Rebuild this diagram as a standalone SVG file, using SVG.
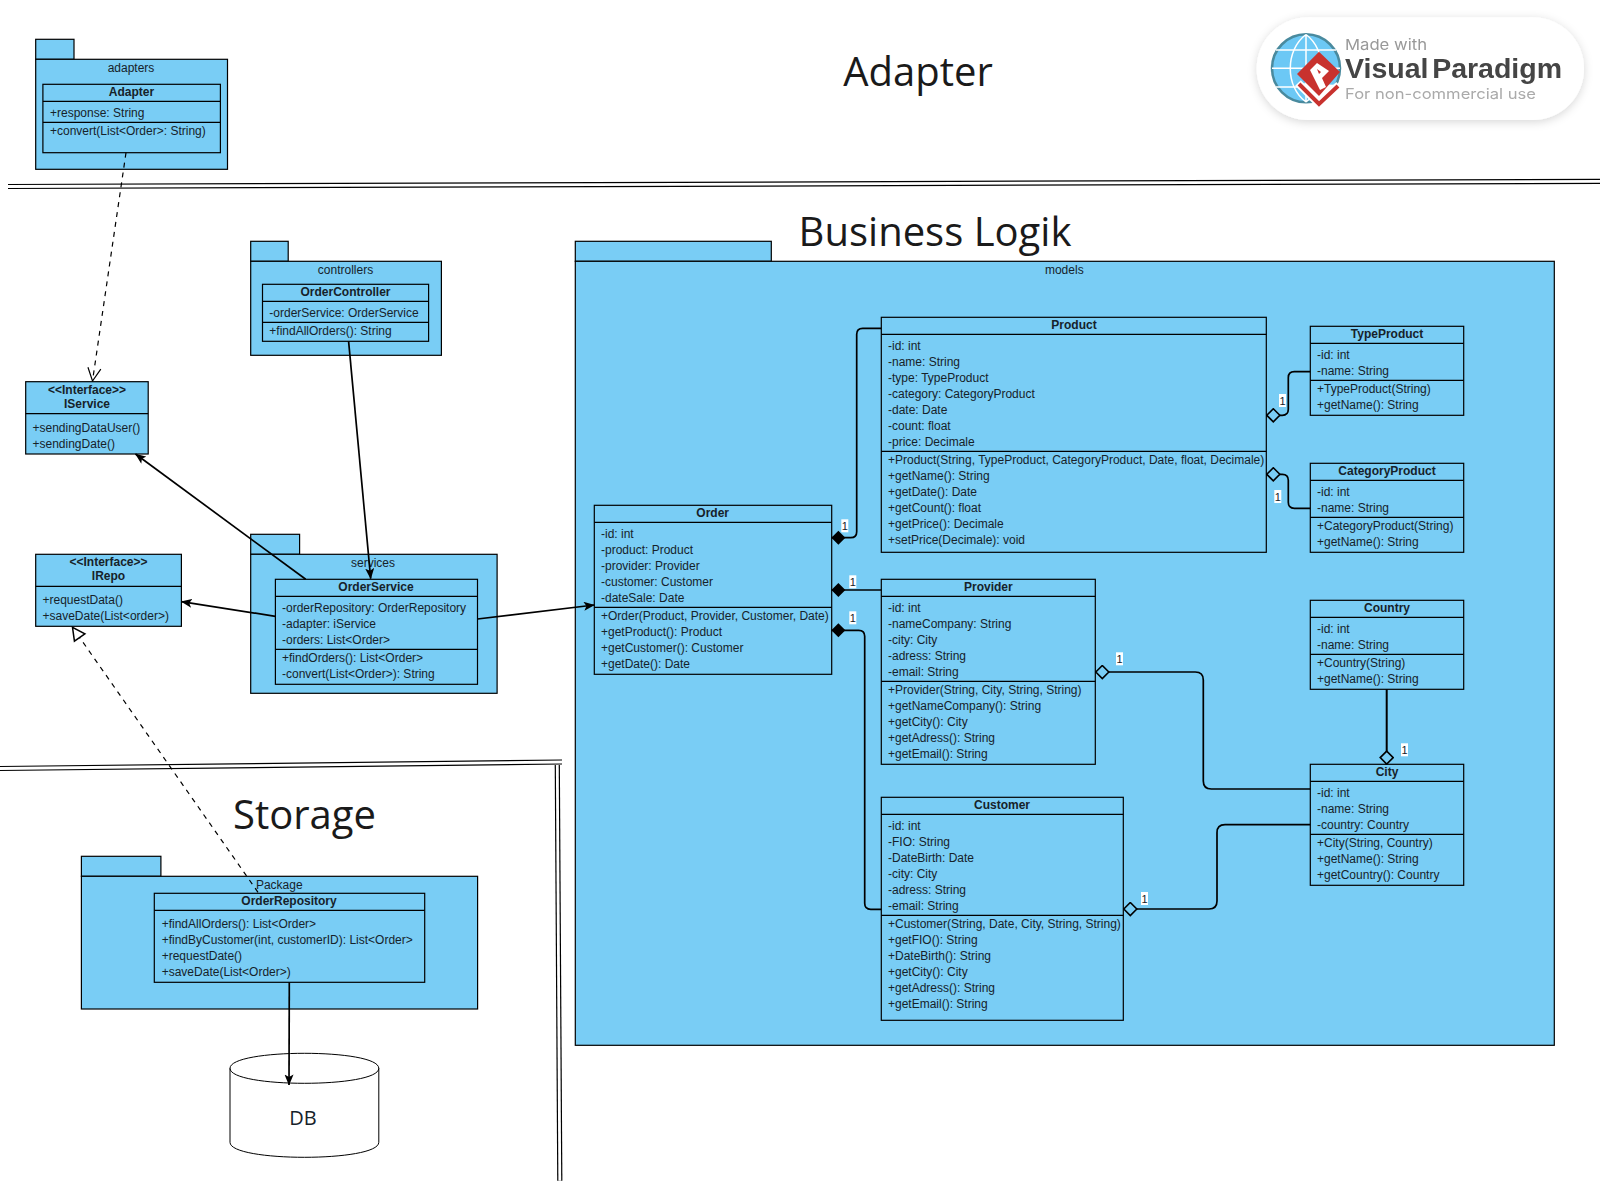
<svg xmlns="http://www.w3.org/2000/svg" width="1600" height="1200" viewBox="0 0 1600 1200">
<style>
.pk,.bx{fill:#79cdf5;stroke:#000;stroke-width:1.2}
.sp{stroke:#000;stroke-width:1.2;fill:none}
text{font-family:"Liberation Sans",Arial,sans-serif;font-size:12px;fill:#16222a}
.b{font-weight:bold;text-anchor:middle}
.c{text-anchor:middle}
.big{font-family:"Open Sans",sans-serif;font-size:40px;fill:#1a1a1a}
.cn{fill:none;stroke:#000;stroke-width:1.7}
.dash{stroke-dasharray:5 5;stroke-width:1.2}
.lb{fill:#fff}
.one{font-size:11px;text-anchor:middle}
.dk{stroke:#000;stroke-width:5.2;fill:none}
.wt{stroke:#fff;stroke-width:2.8;fill:none}
</style>
<defs>
<marker id="arr" markerUnits="userSpaceOnUse" viewBox="0 0 11 9" markerWidth="11" markerHeight="9" refX="10.5" refY="4.5" orient="auto"><path d="M0 0L11 4.5L0 9L2.6 4.5Z" fill="#000"/></marker>
<marker id="open" markerUnits="userSpaceOnUse" viewBox="0 0 15 15" markerWidth="15" markerHeight="15" refX="14" refY="7.5" orient="auto"><path d="M1 1L14 7.5L1 14" fill="none" stroke="#000" stroke-width="1.2"/></marker>
<marker id="tri" markerUnits="userSpaceOnUse" viewBox="0 0 16 16" markerWidth="16" markerHeight="16" refX="14" refY="8" orient="auto"><path d="M1.5 1.6L14 8L1.5 14.4Z" fill="#fff" stroke="#000" stroke-width="1.5"/></marker>
<marker id="fd" markerUnits="userSpaceOnUse" viewBox="0 0 15 15" markerWidth="15" markerHeight="15" refX="0.5" refY="7.5" orient="auto"><path d="M.2 7.5L7.2 .5L14.2 7.5L7.2 14.5Z" fill="#000"/></marker>
<marker id="hd" markerUnits="userSpaceOnUse" viewBox="0 0 15 15" markerWidth="15" markerHeight="15" refX="0.5" refY="7.5" orient="auto"><path d="M.7 7.5L7.2 1L13.7 7.5L7.2 14Z" fill="#79cdf5" stroke="#000" stroke-width="1.6"/></marker>
<filter id="sh" x="-10%" y="-20%" width="120%" height="140%"><feDropShadow dx="0" dy="2" stdDeviation="5" flood-color="#000" flood-opacity=".16"/></filter>
<filter id="bl" x="-5%" y="-5%" width="110%" height="110%"><feGaussianBlur stdDeviation=".5"/></filter>
</defs>

<g id="separators">
<path class="dk" d="M8 186.5L1600 181.3"/><path class="wt" d="M8 186.5L1600 181.3"/>
<path class="dk" d="M0 768.5L562 762"/><path class="wt" d="M0 768.5L562 762"/>
<path class="dk" d="M557.3 765L559.8 1180.7"/><path class="wt" d="M557.3 765L559.8 1180.7"/>
</g>

<g id="titles">
<text class="big c" x="918" y="85.5">Adapter</text>
<text class="big c" x="935" y="246">Business Logik</text>
<text class="big" x="233" y="829">Storage</text>
</g>

<g id="watermark">
<rect x="1256.7" y="17.3" width="327.3" height="102.7" rx="51" fill="#fff" filter="url(#sh)"/>
<g filter="url(#bl)">
<circle cx="1306" cy="68.3" r="34" fill="#6cc8f5" stroke="#4a8a9e" stroke-width="2.5"/>
<path d="M1272 68.3H1340M1276 50H1336M1276 87H1336M1306 34.5V102M1306 34.5C1285 50 1285 87 1306 102M1306 34.5C1327 50 1327 87 1306 102" fill="none" stroke="#fff" stroke-width="1.5"/>
<path d="M1298 83L1319 104L1339 85" fill="#fff" stroke="#fff" stroke-width="8"/>
<path d="M1299 84L1319 104L1338 86" fill="none" stroke="#c8302f" stroke-width="4"/>
<path d="M1319 51.7L1340 72L1319 96L1297 74Z" fill="#c8302f"/>
<path d="M1317 63L1329 71L1322 78L1326 87L1320 90L1310 70Z" fill="#fff"/>
<path d="M1317 69L1321 72L1319 74Z" fill="#c8302f"/>
<text x="1345" y="50" textLength="82" lengthAdjust="spacingAndGlyphs" style="font-family:Inter,sans-serif;font-size:15px;fill:#999">Made with</text>
<text x="1345" y="77.5" textLength="217" lengthAdjust="spacingAndGlyphs" style="font-family:'Liberation Sans',sans-serif;font-size:27px;font-weight:bold;word-spacing:-4px;fill:#444">Visual Paradigm</text>
<text x="1345" y="98.7" textLength="191" lengthAdjust="spacingAndGlyphs" style="font-family:Inter,sans-serif;font-size:14.5px;fill:#aaa">For non-commercial use</text>
</g>
</g>

<g id="pkg-adapters">
<rect class="pk" x="35.7" y="39.3" width="38.3" height="20"/><rect class="pk" x="35.7" y="59.3" width="191.8" height="110"/>
<text class="c" x="131" y="72">adapters</text>
</g>
<g id="class-Adapter">
<rect class="bx" x="42.9" y="84.3" width="177.5" height="68.4"/>
<path class="sp" d="M42.9 101.3H220.4M42.9 122.3H220.4"/>
<text class="b" x="131.5" y="96">Adapter</text>
<text x="50" y="117">+response: String</text>
<text x="50" y="135">+convert(List&lt;Order&gt;: String)</text>
</g>

<g id="pkg-controllers">
<rect class="pk" x="250.7" y="241.3" width="37.5" height="20"/><rect class="pk" x="250.7" y="261.3" width="190.7" height="94"/>
<text class="c" x="345.5" y="274">controllers</text>
</g>
<g id="class-OrderController">
<rect class="bx" x="262.5" y="284.3" width="166.1" height="57"/>
<path class="sp" d="M262.5 301.3H428.6M262.5 322.3H428.6"/>
<text class="b" x="345.5" y="296">OrderController</text>
<text x="269.3" y="317">-orderService: OrderService</text>
<text x="269.3" y="334.5">+findAllOrders(): String</text>
</g>

<g id="class-IService">
<rect class="bx" x="25.7" y="381.7" width="122.5" height="72.3"/>
<path class="sp" d="M25.7 413.7H148.2"/>
<text class="b" x="87" y="394">&lt;&lt;Interface&gt;&gt;</text>
<text class="b" x="87" y="408">IService</text>
<text x="32.5" y="432">+sendingDataUser()</text>
<text x="32.5" y="448">+sendingDate()</text>
</g>

<g id="class-IRepo">
<rect class="bx" x="35.7" y="554.3" width="145.7" height="72"/>
<path class="sp" d="M35.7 586.3H181.4"/>
<text class="b" x="108.5" y="566">&lt;&lt;Interface&gt;&gt;</text>
<text class="b" x="108.5" y="580">IRepo</text>
<text x="42.5" y="604">+requestData()</text>
<text x="42.5" y="620">+saveDate(List&lt;order&gt;)</text>
</g>

<g id="pkg-services">
<rect class="pk" x="250.7" y="534.3" width="48.9" height="20"/><rect class="pk" x="250.7" y="554.3" width="246.4" height="139"/>
<text class="c" x="373" y="567">services</text>
</g>
<g id="class-OrderService">
<rect class="bx" x="275.4" y="579.3" width="202.1" height="105"/>
<path class="sp" d="M275.4 596.3H477.5M275.4 649.3H477.5"/>
<text class="b" x="376" y="591">OrderService</text>
<text x="282" y="612">-orderRepository: OrderRepository</text>
<text x="282" y="628">-adapter: iService</text>
<text x="282" y="644">-orders: List&lt;Order&gt;</text>
<text x="282" y="662">+findOrders(): List&lt;Order&gt;</text>
<text x="282" y="678">-convert(List&lt;Order&gt;): String</text>
</g>

<g id="pkg-storage">
<rect class="pk" x="81.4" y="856.3" width="79.5" height="20"/><rect class="pk" x="81.4" y="876.3" width="396.2" height="132.7"/>
<text class="c" x="279.3" y="889">Package</text>
</g>
<g id="class-OrderRepository">
<rect class="bx" x="154.3" y="893.3" width="270.4" height="89"/>
<path class="sp" d="M154.3 910.3H424.7"/>
<text class="b" x="289" y="905">OrderRepository</text>
<text x="161.7" y="928">+findAllOrders(): List&lt;Order&gt;</text>
<text x="161.7" y="944">+findByCustomer(int, customerID): List&lt;Order&gt;</text>
<text x="161.7" y="960">+requestDate()</text>
<text x="161.7" y="976">+saveDate(List&lt;Order&gt;)</text>
</g>

<g id="node-DB">
<path d="M230 1068.3C230 1048.3 378.8 1048.3 378.8 1068.3V1142.3C378.8 1162.3 230 1162.3 230 1142.3ZM230 1068.3C230 1088.3 378.8 1088.3 378.8 1068.3" fill="#fff" stroke="#000" stroke-width="1"/>
<text class="c" x="303" y="1125" style="font-family:'Open Sans',sans-serif;font-size:20px">DB</text>
</g>

<g id="pkg-models">
<rect class="pk" x="575.3" y="241.3" width="196" height="20"/><rect class="pk" x="575.3" y="261.3" width="979" height="784"/>
<text class="c" x="1064.3" y="274">models</text>
</g>

<g id="class-Order">
<rect class="bx" x="594.3" y="505.3" width="237.4" height="169"/>
<path class="sp" d="M594.3 522.3H831.7M594.3 607.3H831.7"/>
<text class="b" x="712.7" y="517">Order</text>
<text x="601" y="538">-id: int</text>
<text x="601" y="554">-product: Product</text>
<text x="601" y="570">-provider: Provider</text>
<text x="601" y="586">-customer: Customer</text>
<text x="601" y="602">-dateSale: Date</text>
<text x="601" y="620">+Order(Product, Provider, Customer, Date)</text>
<text x="601" y="636">+getProduct(): Product</text>
<text x="601" y="652">+getCustomer(): Customer</text>
<text x="601" y="668">+getDate(): Date</text>
</g>

<g id="class-Product">
<rect class="bx" x="881.3" y="317.3" width="385" height="235"/>
<path class="sp" d="M881.3 334.3H1266.3M881.3 451.3H1266.3"/>
<text class="b" x="1074" y="329">Product</text>
<text x="888" y="350">-id: int</text>
<text x="888" y="366">-name: String</text>
<text x="888" y="382">-type: TypeProduct</text>
<text x="888" y="398">-category: CategoryProduct</text>
<text x="888" y="414">-date: Date</text>
<text x="888" y="430">-count: float</text>
<text x="888" y="446">-price: Decimale</text>
<text x="888" y="464">+Product(String, TypeProduct, CategoryProduct, Date, float, Decimale)</text>
<text x="888" y="480">+getName(): String</text>
<text x="888" y="496">+getDate(): Date</text>
<text x="888" y="512">+getCount(): float</text>
<text x="888" y="528">+getPrice(): Decimale</text>
<text x="888" y="544">+setPrice(Decimale): void</text>
</g>

<g id="class-Provider">
<rect class="bx" x="881.3" y="579.3" width="214" height="185"/>
<path class="sp" d="M881.3 596.3H1095.3M881.3 681.3H1095.3"/>
<text class="b" x="988.3" y="591">Provider</text>
<text x="888" y="612">-id: int</text>
<text x="888" y="628">-nameCompany: String</text>
<text x="888" y="644">-city: City</text>
<text x="888" y="660">-adress: String</text>
<text x="888" y="676">-email: String</text>
<text x="888" y="694">+Provider(String, City, String, String)</text>
<text x="888" y="710">+getNameCompany(): String</text>
<text x="888" y="726">+getCity(): City</text>
<text x="888" y="742">+getAdress(): String</text>
<text x="888" y="758">+getEmail(): String</text>
</g>

<g id="class-Customer">
<rect class="bx" x="881.3" y="797.3" width="242" height="223"/>
<path class="sp" d="M881.3 814.3H1123.3M881.3 915.3H1123.3"/>
<text class="b" x="1002" y="809">Customer</text>
<text x="888" y="830">-id: int</text>
<text x="888" y="846">-FIO: String</text>
<text x="888" y="862">-DateBirth: Date</text>
<text x="888" y="878">-city: City</text>
<text x="888" y="894">-adress: String</text>
<text x="888" y="910">-email: String</text>
<text x="888" y="928">+Customer(String, Date, City, String, String)</text>
<text x="888" y="944">+getFIO(): String</text>
<text x="888" y="960">+DateBirth(): String</text>
<text x="888" y="976">+getCity(): City</text>
<text x="888" y="992">+getAdress(): String</text>
<text x="888" y="1008">+getEmail(): String</text>
</g>

<g id="class-TypeProduct">
<rect class="bx" x="1310.3" y="326.3" width="153.4" height="89"/>
<path class="sp" d="M1310.3 343.3H1463.7M1310.3 380.3H1463.7"/>
<text class="b" x="1387" y="338">TypeProduct</text>
<text x="1317" y="359">-id: int</text>
<text x="1317" y="375">-name: String</text>
<text x="1317" y="393">+TypeProduct(String)</text>
<text x="1317" y="409">+getName(): String</text>
</g>

<g id="class-CategoryProduct">
<rect class="bx" x="1310.3" y="463.3" width="153.4" height="89"/>
<path class="sp" d="M1310.3 480.3H1463.7M1310.3 517.3H1463.7"/>
<text class="b" x="1387" y="475">CategoryProduct</text>
<text x="1317" y="496">-id: int</text>
<text x="1317" y="512">-name: String</text>
<text x="1317" y="530">+CategoryProduct(String)</text>
<text x="1317" y="546">+getName(): String</text>
</g>

<g id="class-Country">
<rect class="bx" x="1310.3" y="600.3" width="153.4" height="89"/>
<path class="sp" d="M1310.3 617.3H1463.7M1310.3 654.3H1463.7"/>
<text class="b" x="1387" y="612">Country</text>
<text x="1317" y="633">-id: int</text>
<text x="1317" y="649">-name: String</text>
<text x="1317" y="667">+Country(String)</text>
<text x="1317" y="683">+getName(): String</text>
</g>

<g id="class-City">
<rect class="bx" x="1310.3" y="764.3" width="153.4" height="121"/>
<path class="sp" d="M1310.3 781.3H1463.7M1310.3 834.3H1463.7"/>
<text class="b" x="1387" y="776">City</text>
<text x="1317" y="797">-id: int</text>
<text x="1317" y="813">-name: String</text>
<text x="1317" y="829">-country: Country</text>
<text x="1317" y="847">+City(String, Country)</text>
<text x="1317" y="863">+getName(): String</text>
<text x="1317" y="879">+getCountry(): Country</text>
</g>

<g id="connectors">
<path class="cn dash" d="M126 152.7L92.5 381" marker-end="url(#open)"/>
<path class="cn dash" d="M258 892.3L72.5 627.3" marker-end="url(#tri)"/>
<path class="cn" d="M348.6 341.3L370.7 578.7" marker-end="url(#arr)"/>
<path class="cn" d="M305.7 579.3L135.5 454" marker-end="url(#arr)"/>
<path class="cn" d="M275.4 616.3L181.4 601.7" marker-end="url(#arr)"/>
<path class="cn" d="M477.5 619L594.3 605" marker-end="url(#arr)"/>
<path class="cn" d="M289.3 982.3L289 1085" marker-end="url(#arr)"/>
<path class="cn" d="M831.7 537.7H850.7Q856.7 537.7 856.7 531.7V334.3Q856.7 328.3 862.7 328.3H881.3" marker-start="url(#fd)"/>
<path class="cn" d="M831.7 590H881.3" marker-start="url(#fd)"/>
<path class="cn" d="M831.7 630.3H858.7Q864.7 630.3 864.7 636.3V903.3Q864.7 909.3 870.7 909.3H881.3" marker-start="url(#fd)"/>
<path class="cn" d="M1266.6 415.3H1282.3Q1288.3 415.3 1288.3 409.3V377.7Q1288.3 371.7 1294.3 371.7H1310.3" marker-start="url(#hd)"/>
<path class="cn" d="M1266.6 474.3H1282.3Q1288.3 474.3 1288.3 480.3V502.3Q1288.3 508.3 1294.3 508.3H1310.3" marker-start="url(#hd)"/>
<path class="cn" d="M1095.6 672H1195.3Q1203.3 672 1203.3 680V781Q1203.3 789 1211.3 789H1310.3" marker-start="url(#hd)"/>
<path class="cn" d="M1123.6 909H1209Q1217 909 1217 901V832.7Q1217 824.7 1225 824.7H1310.3" marker-start="url(#hd)"/>
<path class="cn" style="stroke-width:2" d="M1386.7 764.3V689.3" marker-start="url(#hd)"/>
<g id="multiplicities">
<rect class="lb" x="841.3" y="519.3" width="7" height="13"/><text class="one" x="844.8" y="530">1</text>
<rect class="lb" x="849.3" y="575.3" width="7" height="13"/><text class="one" x="852.8" y="586">1</text>
<rect class="lb" x="849.3" y="611.3" width="7" height="13"/><text class="one" x="852.8" y="622">1</text>
<rect class="lb" x="1279" y="394" width="7" height="13"/><text class="one" x="1282.5" y="404.7">1</text>
<rect class="lb" x="1274.3" y="490" width="7" height="13"/><text class="one" x="1277.8" y="500.7">1</text>
<rect class="lb" x="1116" y="652.3" width="7" height="13"/><text class="one" x="1119.5" y="663">1</text>
<rect class="lb" x="1141" y="892" width="7" height="13"/><text class="one" x="1144.5" y="902.7">1</text>
<rect class="lb" x="1401" y="743.3" width="7" height="13"/><text class="one" x="1404.5" y="754">1</text>
</g>
</g>
</svg>
